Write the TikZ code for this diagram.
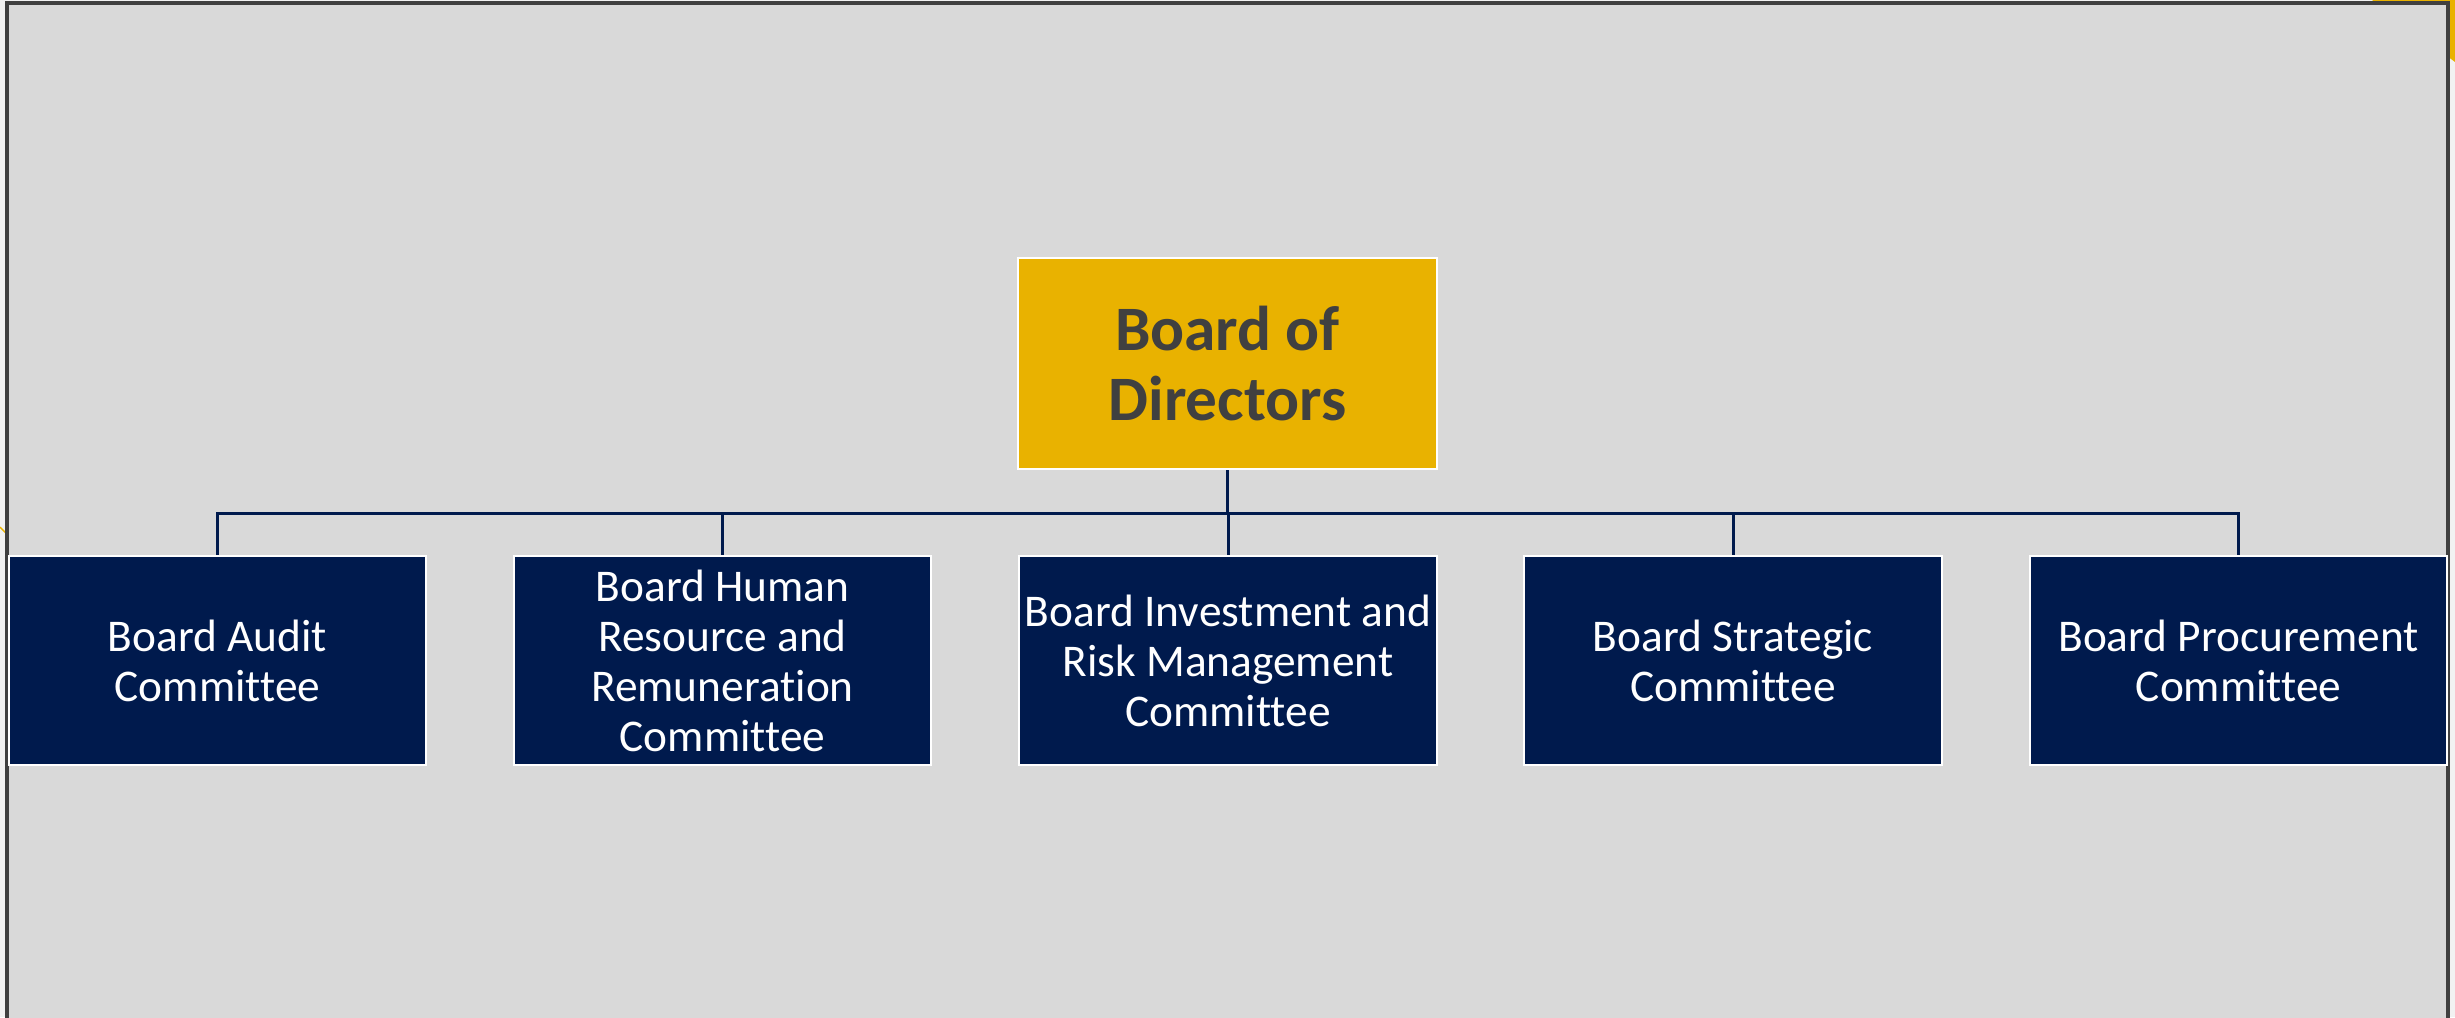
\documentclass[tikz,border=0pt]{standalone}
\usepackage{fontspec}
\setmainfont{Carlito}[Ligatures=NoCommon]
\definecolor{boardgold}{HTML}{E9B200}
\definecolor{boardnavy}{HTML}{001A4D}
\definecolor{paneltext}{HTML}{404040}
\definecolor{panelgrey}{HTML}{D9D9D9}
\definecolor{pagegrey}{HTML}{F2F2F2}

\begin{document}
\begin{tikzpicture}[x=0.01cm, y=-0.01cm,
    boardbox/.style={draw=white, line width=0.7pt, fill=boardgold, minimum width=4.19cm, minimum height=2.11cm,
        inner sep=0pt, align=center, text=paneltext, font=\fontsize{18}{19.7}\selectfont\bfseries},
    cmtbox/.style={draw=white, line width=0.6pt, fill=boardnavy, minimum width=4.17cm, minimum height=2.09cm,
        inner sep=0pt, align=center, text=white, font=\fontsize{12.9}{14.2}\selectfont},
    link/.style={draw=boardnavy, line width=0.85pt}]
% Page and panel
\fill[pagegrey] (0,0) rectangle (2455,1017);
\useasboundingbox (0,0) rectangle (2455,1017);
\fill[boardgold] (2372,0) -- (2455,0) -- (2455,62) -- cycle;
\draw[boardgold, line width=0.4pt] (0,527) -- (7,534);
\filldraw[fill=panelgrey, draw=paneltext, line width=1pt] (7,3) rectangle (2448,1030);
% Board
\node[boardbox] (board) at (1227.5,363.5) {Board of\\Directors};
% Committees
\foreach \i/\x/\name in {1/217.5/{Board Audit\\Committee}, 2/722.5/{Board Human\\Resource and\\Remuneration\\Committee},
    3/1228/{Board Investment and\\Risk Management\\Committee}, 4/1733/{Board Strategic\\Committee},
    5/2238.5/{Board Procurement\\Committee}} {
    \node[cmtbox] (cmt\i) at (\x,660.5) {\name};
    \draw[link] (board.south) -- ++(0,43) -| (cmt\i.north);
}
\end{tikzpicture}
\end{document}
